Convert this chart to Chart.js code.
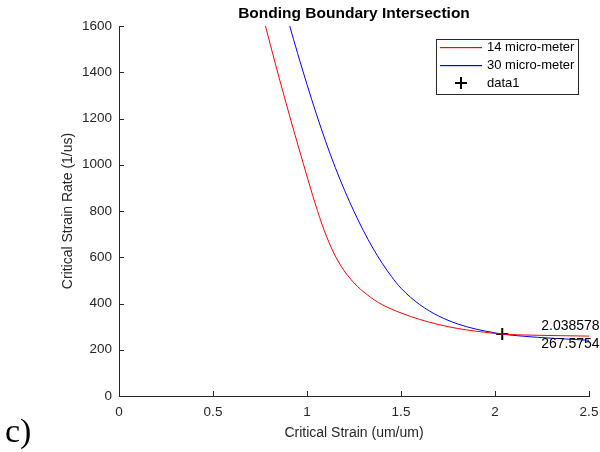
<!DOCTYPE html>
<html>
<head>
<meta charset="utf-8">
<script src="https://cdn.jsdelivr.net/npm/chart.js@4"></script>
<style>
  body { margin: 0; background: #fff; }
  #wrap { width: 600px; height: 452px; }
</style>
</head>
<body>
<div id="wrap"><canvas id="myChart" width="600" height="452"></canvas></div>
<script>
// values
const redX = [0.779, 0.83, 0.88, 0.93, 0.98, 1.03, 1.08, 1.13, 1.18, 1.25, 1.32, 1.40, 1.50, 1.60, 1.70, 1.80, 1.90, 2.00, 2.038578, 2.20, 2.35, 2.50]
const redY = [1600, 1442, 1292, 1147, 1006, 868, 742, 640, 563, 489, 438, 395, 359, 331, 309, 292, 280, 270.6, 267.5754, 263, 260.8, 259]

const blueX = [0.908, 0.95, 1.00, 1.05, 1.10, 1.15, 1.20, 1.25, 1.30, 1.35, 1.40, 1.45, 1.50, 1.60, 1.70, 1.80, 1.90, 2.00, 2.038578, 2.15, 2.30, 2.50]
const blueY = [1600, 1482, 1347, 1219, 1099, 989, 889, 798, 715, 640, 574, 516, 466, 395, 346, 312, 289, 273, 267.5754, 258.5, 250, 241]

const crossX = [2.038578]
const crossY = [267.5754]

const xTicks = [0, 0.5, 1, 1.5, 2, 2.5]
const yTicks = [0, 200, 400, 600, 800, 1000, 1200, 1400, 1600]

const seriesNames = ['14 micro-meter', '30 micro-meter', 'data1']
const seriesColors = ['#ff0000', '#0000ff', '#000000']

const FONT = '"Liberation Sans", Arial, Helvetica, sans-serif'
const AXIS = '#262626'

function pts(xs, ys) {
    let arr = []
    for (let i = 0; i < xs.length; i++) {
        arr.push({x: xs[i], y: ys[i]})
    }
    return arr
}

const extras = {
    id: 'extras',
    afterDatasetsDraw(chart) {
        const ctx = chart.ctx
        const xs = chart.scales.x
        const ys = chart.scales.y
        const area = chart.chartArea

        // inward tick marks (matlab style)
        ctx.save()
        ctx.strokeStyle = AXIS
        ctx.lineWidth = 1
        ctx.beginPath()
        xTicks.forEach(v => {
            const px = Math.round(xs.getPixelForValue(v)) + 0.5
            ctx.moveTo(px, area.bottom)
            ctx.lineTo(px, area.bottom - 5)
        })
        yTicks.forEach(v => {
            const py = Math.round(ys.getPixelForValue(v)) + 0.5
            ctx.moveTo(area.left, py)
            ctx.lineTo(area.left + 5, py)
        })
        ctx.stroke()

        // data tip text next to the intersection
        const px = xs.getPixelForValue(crossX[0])
        const py = ys.getPixelForValue(crossY[0])
        ctx.fillStyle = '#000'
        ctx.font = '14px ' + FONT
        ctx.textAlign = 'left'
        ctx.textBaseline = 'middle'
        ctx.fillText(String(crossX[0]), px + 39, py - 7.5)
        ctx.fillText(String(crossY[0]), px + 39, py + 10.5)

        // title
        ctx.fillStyle = '#000'
        ctx.font = 'bold 15.5px ' + FONT
        ctx.textAlign = 'center'
        ctx.fillText('Bonding Boundary Intersection', (area.left + area.right) / 2, 14)

        // legend box
        const lx = 436, ly = 39, lw = 142, lh = 55
        ctx.fillStyle = '#fff'
        ctx.fillRect(lx, ly, lw, lh)
        ctx.strokeStyle = AXIS
        ctx.lineWidth = 1
        ctx.strokeRect(lx + 0.5, ly + 0.5, lw, lh)
        const rows = [47, 65, 83]
        ctx.font = '13px ' + FONT
        ctx.textAlign = 'left'
        for (let i = 0; i < seriesNames.length; i++) {
            const ry = rows[i]
            ctx.fillStyle = seriesColors[i]
            if (i < 2) {
                ctx.fillRect(440, ry, 42, 1.2)
            } else {
                ctx.fillRect(455, ry - 1, 12, 2)
                ctx.fillRect(460, ry - 6, 2, 12)
            }
            ctx.fillStyle = '#000'
            ctx.fillText(seriesNames[i], 487, ry)
        }

        // panel label
        ctx.fillStyle = '#000'
        ctx.font = '34px "Liberation Serif", "Times New Roman", serif'
        ctx.textAlign = 'left'
        ctx.textBaseline = 'alphabetic'
        ctx.fillText('c)', 5, 442)
        ctx.restore()
    }
}

const ctx = document.getElementById('myChart').getContext('2d')
const myChart = new Chart(ctx, {
    type: 'scatter',
    data: {
        datasets: [{
            label: seriesNames[0],
            data: pts(redX, redY),
            showLine: true,
            borderColor: seriesColors[0],
            borderWidth: 1,
            pointRadius: 0,
            cubicInterpolationMode: 'monotone'
        }, {
            label: seriesNames[1],
            data: pts(blueX, blueY),
            showLine: true,
            borderColor: seriesColors[1],
            borderWidth: 1,
            pointRadius: 0,
            cubicInterpolationMode: 'monotone'
        }, {
            label: seriesNames[2],
            data: pts(crossX, crossY),
            showLine: false,
            borderColor: seriesColors[2],
            backgroundColor: seriesColors[2],
            pointStyle: 'cross',
            pointRadius: 6,
            borderWidth: 2
        }]
    },
    options: {
        responsive: false,
        animation: false,
        layout: {
            padding: {top: 26, right: 11, left: 0, bottom: 0}
        },
        plugins: {
            legend: {display: false},
            title: {display: false},
            tooltip: {enabled: false}
        },
        scales: {
            x: {
                type: 'linear',
                min: 0,
                max: 2.5,
                afterFit: s => {
                    s.height = 56
                    s.paddingLeft = 0
                    s.paddingRight = 0
                },
                afterBuildTicks: s => { s.ticks = xTicks.map(v => ({value: v})) },
                grid: {display: false, drawTicks: false},
                border: {display: true, color: AXIS, width: 1},
                ticks: {
                    color: AXIS,
                    font: {family: FONT, size: 13.5},
                    padding: 8,
                    maxRotation: 0,
                    callback: v => String(v)
                },
                title: {
                    display: true,
                    text: 'Critical Strain (um/um)',
                    color: AXIS,
                    font: {family: FONT, size: 14},
                    padding: {top: 0, bottom: 10}
                }
            },
            y: {
                type: 'linear',
                min: 0,
                max: 1600,
                afterFit: s => {
                    s.width = 119
                    s.paddingTop = 0
                    s.paddingBottom = 0
                },
                afterBuildTicks: s => { s.ticks = yTicks.map(v => ({value: v})) },
                grid: {display: false, drawTicks: false},
                border: {display: true, color: AXIS, width: 1},
                ticks: {
                    color: AXIS,
                    font: {family: FONT, size: 13.5},
                    padding: 7,
                    callback: v => String(v)
                },
                title: {
                    display: true,
                    text: 'Critical Strain Rate (1/us)',
                    color: AXIS,
                    font: {family: FONT, size: 14},
                    padding: {top: 60, bottom: 0}
                }
            }
        }
    },
    plugins: [extras]
})
</script>
</body>
</html>
